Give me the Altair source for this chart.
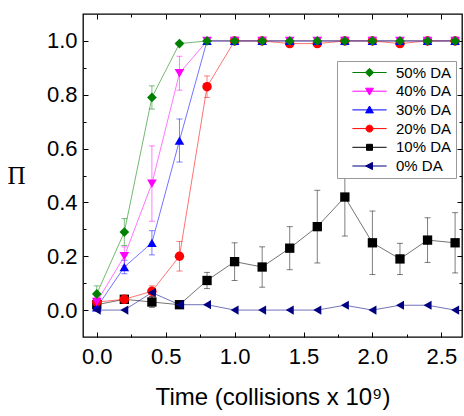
import altair as alt
import pandas as pd

# Time axis (collisions x 1e9)
t = [0.0, 0.2, 0.4, 0.6, 0.8, 1.0, 1.2, 1.4, 1.6, 1.8, 2.0, 2.2, 2.4, 2.6]

series = ["50% DA", "40% DA", "30% DA", "20% DA", "10% DA", "0% DA"]

pi_values = {
    "50% DA": [0.06, 0.29, 0.79, 0.99, 1.0, 1.0, 1.0, 1.0, 1.0, 1.0, 1.0, 1.0, 1.0, 1.0],
    "40% DA": [0.03, 0.20, 0.47, 0.88, 1.0, 1.0, 1.0, 1.0, 1.0, 1.0, 1.0, 1.0, 1.0, 1.0],
    "30% DA": [0.01, 0.16, 0.25, 0.63, 1.0, 1.0, 1.0, 1.0, 1.0, 1.0, 1.0, 1.0, 1.0, 1.0],
    "20% DA": [0.03, 0.04, 0.07, 0.20, 0.83, 1.0, 1.0, 0.99, 0.99, 1.0, 1.0, 0.99, 1.0, 1.0],
    "10% DA": [0.02, 0.04, 0.03, 0.02, 0.11, 0.18, 0.16, 0.23, 0.31, 0.42, 0.25, 0.19, 0.26, 0.25],
    "0% DA": [0.0, 0.0, 0.065, 0.02, 0.02, 0.0, 0.0, 0.0, 0.0, 0.018, 0.0, 0.018, 0.018, 0.0],
}

pi_errors = {
    "50% DA": [0.03, 0.05, 0.043, 0.005, 0, 0, 0, 0, 0, 0, 0, 0, 0, 0],
    "40% DA": [0.02, 0.035, 0.14, 0.063, 0, 0, 0, 0, 0, 0, 0, 0, 0, 0],
    "30% DA": [0.01, 0.025, 0.045, 0.08, 0, 0, 0, 0, 0, 0, 0, 0, 0, 0],
    "20% DA": [0.01, 0.015, 0.02, 0.055, 0.04, 0, 0, 0, 0, 0, 0, 0, 0, 0],
    "10% DA": [0.01, 0.01, 0.02, 0.01, 0.03, 0.07, 0.075, 0.08, 0.135, 0.145, 0.118, 0.058, 0.083, 0.112],
    "0% DA": [0, 0, 0, 0, 0, 0, 0, 0, 0, 0, 0, 0, 0, 0],
}

marker_colors = ["#008000", "#ff00ff", "#0000ff", "#ff0000", "#000000", "#000080"]
marker_shapes = ["diamond", "triangle-down", "triangle-up", "circle", "square", "triangle-left"]
marker_sizes = [95, 85, 85, 80, 60, 85]
line_opacity = [0.55, 0.55, 0.55, 0.55, 0.7, 0.9]

# legend glyphs: a short line with the marker on it (unit coordinates,
# drawn to the right of the symbol anchor so they sit beside the labels)
L = "M1.3,0H12.7"
legend_glyphs = [
    L + "M7,-1.4L8.4,0L7,1.4L5.6,0Z",
    L + "M5.7,-1L8.3,-1L7,1.3Z",
    L + "M5.7,1L8.3,1L7,-1.3Z",
    L + "M8.15,0A1.15,1.15,0,1,1,5.85,0A1.15,1.15,0,1,1,8.15,0Z",
    L + "M6,-1H8V1H6Z",
    L + "M5.7,0L8,-1.2L8,1.2Z",
]

# drawing order of the series (later ones on top)
draw_order = ["10% DA", "20% DA", "30% DA", "40% DA", "50% DA", "0% DA"]

rows = []
for s in draw_order:
    for ti, v, e in zip(t, pi_values[s], pi_errors[s]):
        rows.append({"t": ti, "v": v, "err": e, "lo": v - e, "hi": v + e, "series": s, "label": s})
df = pd.DataFrame(rows)

x_ticks = [0.0, 0.25, 0.5, 0.75, 1.0, 1.25, 1.5, 1.75, 2.0, 2.25, 2.5]
y_ticks = [0.0, 0.1, 0.2, 0.3, 0.4, 0.5, 0.6, 0.7, 0.8, 0.9, 1.0]

W, H = 379, 323
FONT = "Liberation Sans"

x_scale = alt.Scale(domain=[-0.1, 2.65], nice=False, zero=False)
y_scale = alt.Scale(domain=[-0.1, 1.1], nice=False, zero=False)

x_axis = alt.Axis(
    values=x_ticks,
    labelExpr="round(datum.value * 4) % 2 === 0 ? format(datum.value, '.1f') : ''",
    ticks=False, domain=False,
    grid=True, gridColor="black", gridOpacity=1, gridWidth=1,
    gridDash={"condition": {"test": "round(datum.value * 4) % 2 === 0", "value": [5, H - 10, 5]},
              "value": [3, H - 6, 3]},
    labelFont=FONT, labelFontSize=22, labelColor="black", labelPadding=9,
    labelOverlap=False, labelFlush=False,
    titleFont=FONT, titleFontSize=24, titleFontWeight="normal", titleColor="black",
    titleBaseline="alphabetic", titleY=67,
)
y_axis = alt.Axis(
    values=y_ticks,
    labelExpr="round(datum.value * 10) % 2 === 0 ? format(datum.value, '.1f') : ''",
    ticks=False, domain=False,
    grid=True, gridColor="black", gridOpacity=1, gridWidth=1,
    gridDash={"condition": {"test": "round(datum.value * 10) % 2 === 0", "value": [5, W - 10, 5]},
              "value": [3, W - 6, 3]},
    labelFont=FONT, labelFontSize=22, labelColor="black", labelPadding=6,
    labelOverlap=False, labelFlush=False,
    titleFont="Liberation Serif", titleFontSize=25, titleFontWeight="normal", titleColor="black",
    titleAngle=0, titleAlign="center", titleBaseline="middle", titleX=-67, titleY=H / 2,
)

X_TITLE = "Time (collisions x 10\u2079)"
Y_TITLE = "\u03a0"


def X(field):
    return alt.X(f"{field}:Q", scale=x_scale, axis=x_axis, title=X_TITLE)


def Y(field):
    return alt.Y(f"{field}:Q", scale=y_scale, axis=y_axis, title=Y_TITLE)


color = alt.Color("series:N", scale=alt.Scale(domain=series, range=marker_colors), legend=None)

base = alt.Chart(df)
errs = base.transform_filter("datum.err > 0")

err_rules = errs.mark_rule(strokeWidth=1, opacity=0.5).encode(
    x=X("t"), y=Y("lo"), y2="hi:Q", color=color
)
err_caps_lo = errs.mark_tick(orient="horizontal", size=6, thickness=1, opacity=0.5).encode(
    x=X("t"), y=Y("lo"), color=color
)
err_caps_hi = errs.mark_tick(orient="horizontal", size=6, thickness=1, opacity=0.5).encode(
    x=X("t"), y=Y("hi"), color=color
)

lines = base.mark_line(strokeWidth=1).encode(
    x=X("t"), y=Y("v"), color=color,
    opacity=alt.Opacity("series:N", scale=alt.Scale(domain=series, range=line_opacity), legend=None),
    detail="series:N",
)

points = base.mark_point(filled=True, opacity=1).encode(
    x=X("t"), y=Y("v"), color=color,
    shape=alt.Shape("series:N", scale=alt.Scale(domain=series, range=marker_shapes), legend=None),
    size=alt.Size("series:N", scale=alt.Scale(domain=series, range=marker_sizes), legend=None),
)

# legend box with line-and-marker glyphs
main_leg = alt.Legend(
    orient="none", legendX=254, legendY=47, title=None, padding=4,
    fillColor="white", strokeColor="#999999",
    labelFont=FONT, labelFontSize=15, labelColor="black", labelLimit=200,
    symbolSize=36, symbolStrokeWidth=1, symbolOpacity=1, symbolOffset=0, labelOffset=40,
    rowPadding=2.7, zindex=2,
)
main_scale = alt.Scale(domain=series, range=marker_colors)
legend_main = base.transform_filter("false").mark_point(filled=True, strokeWidth=1, opacity=1).encode(
    x=X("t"), y=Y("v"),
    fill=alt.Fill("label:N", scale=main_scale, legend=main_leg),
    stroke=alt.Stroke("label:N", scale=main_scale, legend=main_leg),
    shape=alt.Shape("label:N", scale=alt.Scale(domain=series, range=legend_glyphs), legend=main_leg),
)

chart = alt.layer(
    err_rules, err_caps_lo, err_caps_hi, lines, points, legend_main
).resolve_scale(
    fill="independent", stroke="independent", shape="independent"
).properties(
    width=W, height=H,
    padding={"left": 83, "top": 14, "right": 2, "bottom": 79},
    autosize=alt.AutoSizeParams(type="none"),
    background="white",
).configure_view(stroke="black", strokeWidth=1.3)

chart.save("out.html", embed_options={"renderer": "svg", "actions": False})
